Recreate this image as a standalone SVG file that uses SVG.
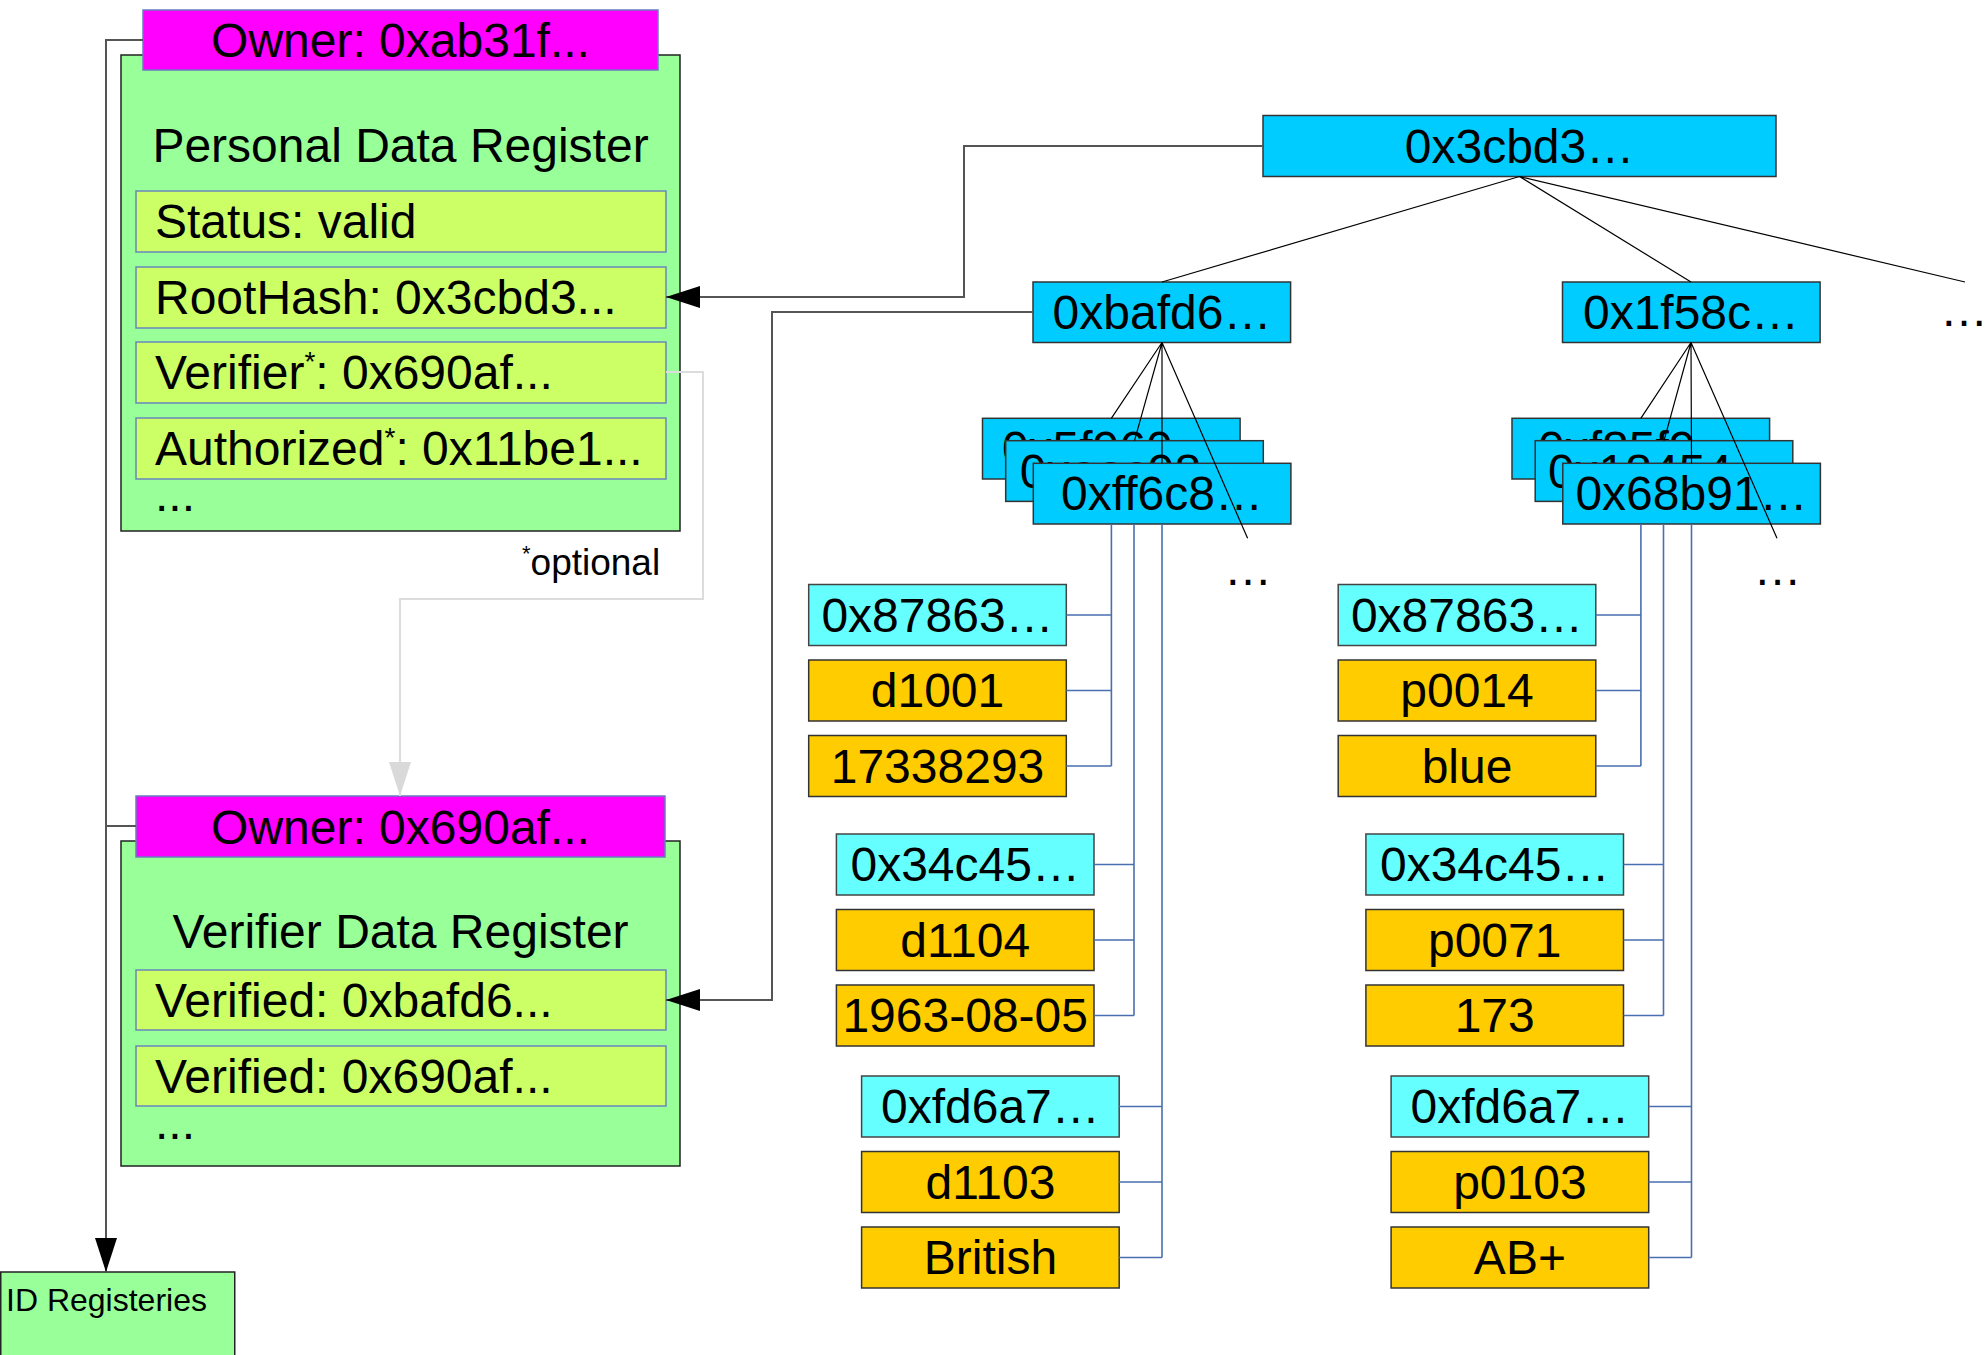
<svg xmlns="http://www.w3.org/2000/svg" width="1987" height="1355" viewBox="0 0 1987 1355">
<defs>
<style>
text{font-family:"Liberation Sans",Arial,sans-serif;fill:#000}
.t47{font-size:48px}
.c{text-anchor:middle}
.green{fill:#99ff99;stroke:#222;stroke-width:1.5}
.owner{fill:#ff00ff;stroke:#6a7bbf;stroke-width:1.5}
.row{fill:#ccff66;stroke:#6a86bd;stroke-width:1.5}
.hash{fill:#00ccff;stroke:#333;stroke-width:1.5}
.key{fill:#66ffff;stroke:#444;stroke-width:1.5}
.val{fill:#ffcc00;stroke:#333;stroke-width:1.5}
.tree{fill:none;stroke:#000;stroke-width:1.2}
.blue{fill:none;stroke:#4a6fb0;stroke-width:1.6}
.link{fill:none;stroke:#555;stroke-width:2}
.opt{fill:none;stroke:#dcdcdc;stroke-width:2}
.sup{font-size:28px}
</style>
<marker id="arrBlack" markerUnits="userSpaceOnUse" markerWidth="34" markerHeight="22" refX="34" refY="11" orient="auto" viewBox="0 0 34 22"><path d="M0,0 L34,11 L0,22 z" fill="#000"/></marker>
<marker id="arrGray" markerUnits="userSpaceOnUse" markerWidth="34" markerHeight="22" refX="34" refY="11" orient="auto" viewBox="0 0 34 22"><path d="M0,0 L34,11 L0,22 z" fill="#d9d9d9"/></marker>
</defs>

<g id="personal-register">
<rect class="green" x="121" y="55" width="559" height="476"/>
<rect class="owner" x="143" y="10" width="515" height="60"/>
<text class="t47 c" x="400.5" y="56.5">Owner: 0xab31f...</text>
<text class="t47 c" x="400.5" y="162">Personal Data Register</text>
<rect class="row" x="136" y="191" width="530" height="61"/>
<text class="t47" x="155" y="238">Status: valid</text>
<rect class="row" x="136" y="267" width="530" height="61"/>
<text class="t47" x="155" y="313.5">RootHash: 0x3cbd3...</text>
<rect class="row" x="136" y="342" width="530" height="61"/>
<text class="t47" x="155" y="389">Verifier<tspan class="sup" dy="-18">*</tspan><tspan dy="18">: 0x690af...</tspan></text>
<rect class="row" x="136" y="418" width="530" height="61"/>
<text class="t47" x="155" y="465">Authorized<tspan class="sup" dy="-18">*</tspan><tspan dy="18">: 0x11be1...</tspan></text>
<text class="t47" x="155" y="511">...</text>
</g>

<g id="optional-note">
<text x="522" y="575" style="font-size:37px"><tspan class="sup" style="font-size:22px" dy="-14">*</tspan><tspan dy="14">optional</tspan></text>
</g>

<g id="verifier-register">
<rect class="green" x="121" y="841" width="559" height="325"/>
<rect class="owner" x="136" y="796" width="529" height="61"/>
<text class="t47 c" x="400.5" y="843.5">Owner: 0x690af...</text>
<text class="t47 c" x="400.5" y="948">Verifier Data Register</text>
<rect class="row" x="136" y="970" width="530" height="60"/>
<text class="t47" x="155" y="1016.5">Verified: 0xbafd6...</text>
<rect class="row" x="136" y="1046" width="530" height="60"/>
<text class="t47" x="155" y="1092.5">Verified: 0x690af...</text>
<text class="t47" x="155" y="1139">...</text>
</g>

<g id="id-registeries">
<rect class="green" x="0.75" y="1272" width="234" height="100"/>
<text x="6" y="1311" style="font-size:32px">ID Registeries</text>
</g>

<g id="root-hash">
<rect class="hash" x="1263" y="115.5" width="513" height="61"/>
<text class="t47 c" x="1519.5" y="163">0x3cbd3…</text>
</g>
<g id="more-root">
<text class="t47" x="1940" y="326">…</text>
</g>

<g id="node-bafd6">
<rect class="hash" x="1033" y="282" width="257.6" height="60.5"/>
<text class="t47 c" x="1162" y="329">0xbafd6…</text>
</g>
<g id="node-1f58c">
<rect class="hash" x="1562.5" y="282" width="257.6" height="60.5"/>
<text class="t47 c" x="1691" y="329">0x1f58c…</text>
</g>

<g id="stack-left">
<rect class="hash" x="982.5" y="418.3" width="257.6" height="60.7"/>
<text class="t47 c" x="1111.3" y="465">0x5f960…</text>
<rect class="hash" x="1005.7" y="440.7" width="257.6" height="60.7"/>
<text class="t47 c" x="1134.5" y="487.5">0xaac98…</text>
<rect class="hash" x="1033.3" y="463.3" width="257.6" height="60.7"/>
<text class="t47 c" x="1162" y="510">0xff6c8…</text>
<text class="t47 c" x="1248" y="585">…</text>
</g>

<g id="stack-right">
<rect class="hash" x="1512" y="418.3" width="257.6" height="60.7"/>
<text class="t47 c" x="1640.8" y="465">0xf85f9…</text>
<rect class="hash" x="1535.2" y="440.7" width="257.6" height="60.7"/>
<text class="t47 c" x="1664" y="487.5">0x18454…</text>
<rect class="hash" x="1562.8" y="463.3" width="257.6" height="60.7"/>
<text class="t47 c" x="1691.5" y="510">0x68b91…</text>
<text class="t47 c" x="1777.5" y="585">…</text>
</g>

<g id="leaves-left">
<rect class="key" x="808.7" y="584.5" width="257.6" height="61"/>
<text class="t47 c" x="937.5" y="631.5">0x87863…</text>
<rect class="val" x="808.7" y="660" width="257.6" height="61"/>
<text class="t47 c" x="937.5" y="707">d1001</text>
<rect class="val" x="808.7" y="735.5" width="257.6" height="61"/>
<text class="t47 c" x="937.5" y="782.5">17338293</text>

<rect class="key" x="836.4" y="834" width="257.6" height="61"/>
<text class="t47 c" x="965.2" y="881">0x34c45…</text>
<rect class="val" x="836.4" y="909.5" width="257.6" height="61"/>
<text class="t47 c" x="965.2" y="956.5">d1104</text>
<rect class="val" x="836.4" y="985" width="257.6" height="61"/>
<text class="t47 c" x="965.2" y="1032">1963-08-05</text>

<rect class="key" x="861.6" y="1076" width="257.6" height="61"/>
<text class="t47 c" x="990.4" y="1123">0xfd6a7…</text>
<rect class="val" x="861.6" y="1151.5" width="257.6" height="61"/>
<text class="t47 c" x="990.4" y="1198.5">d1103</text>
<rect class="val" x="861.6" y="1227" width="257.6" height="61"/>
<text class="t47 c" x="990.4" y="1274">British</text>
</g>

<g id="leaves-right">
<rect class="key" x="1338.2" y="584.5" width="257.6" height="61"/>
<text class="t47 c" x="1467" y="631.5">0x87863…</text>
<rect class="val" x="1338.2" y="660" width="257.6" height="61"/>
<text class="t47 c" x="1467" y="707">p0014</text>
<rect class="val" x="1338.2" y="735.5" width="257.6" height="61"/>
<text class="t47 c" x="1467" y="782.5">blue</text>

<rect class="key" x="1365.9" y="834" width="257.6" height="61"/>
<text class="t47 c" x="1494.7" y="881">0x34c45…</text>
<rect class="val" x="1365.9" y="909.5" width="257.6" height="61"/>
<text class="t47 c" x="1494.7" y="956.5">p0071</text>
<rect class="val" x="1365.9" y="985" width="257.6" height="61"/>
<text class="t47 c" x="1494.7" y="1032">173</text>

<rect class="key" x="1391.1" y="1076" width="257.6" height="61"/>
<text class="t47 c" x="1519.9" y="1123">0xfd6a7…</text>
<rect class="val" x="1391.1" y="1151.5" width="257.6" height="61"/>
<text class="t47 c" x="1519.9" y="1198.5">p0103</text>
<rect class="val" x="1391.1" y="1227" width="257.6" height="61"/>
<text class="t47 c" x="1519.9" y="1274">AB+</text>
</g>

<g id="connectors">
<path class="link" d="M1263,146 H964 V297 H666" marker-end="url(#arrBlack)"/>
<path class="link" d="M1033,312 H772 V1000 H666" marker-end="url(#arrBlack)"/>
<path class="opt" d="M666,372 H703 V599 H400 V796" marker-end="url(#arrGray)"/>
<path class="link" d="M143,40 H106 V1272" marker-end="url(#arrBlack)"/>
<path class="link" d="M136,826 H106"/>

<path class="tree" d="M1519.5,176.5 L1162,282 M1519.5,176.5 L1691,282 M1519.5,176.5 L1965,282"/>
<path class="tree" d="M1162,342.5 L1111.3,418.3 M1162,342.5 L1134.5,440.7 M1162,342.5 L1162,463.3 M1162,342.5 L1247.6,538.3"/>
<path class="tree" d="M1691,342.5 L1640.8,418.3 M1691,342.5 L1664,440.7 M1691,342.5 L1691.5,463.3 M1691,342.5 L1777,538.3"/>

<path class="blue" d="M1111.4,524 V766 M1066.3,615 H1111.4 M1066.3,690.5 H1111.4 M1066.3,766 H1111.4"/>
<path class="blue" d="M1134,524 V1015.5 M1094,864.5 H1134 M1094,940 H1134 M1094,1015.5 H1134"/>
<path class="blue" d="M1162,524 V1257.5 M1119.2,1106.5 H1162 M1119.2,1182 H1162 M1119.2,1257.5 H1162"/>
<path class="blue" d="M1640.9,524 V766 M1595.8,615 H1640.9 M1595.8,690.5 H1640.9 M1595.8,766 H1640.9"/>
<path class="blue" d="M1663.5,524 V1015.5 M1623.5,864.5 H1663.5 M1623.5,940 H1663.5 M1623.5,1015.5 H1663.5"/>
<path class="blue" d="M1691.5,524 V1257.5 M1648.7,1106.5 H1691.5 M1648.7,1182 H1691.5 M1648.7,1257.5 H1691.5"/>
</g>
</svg>
